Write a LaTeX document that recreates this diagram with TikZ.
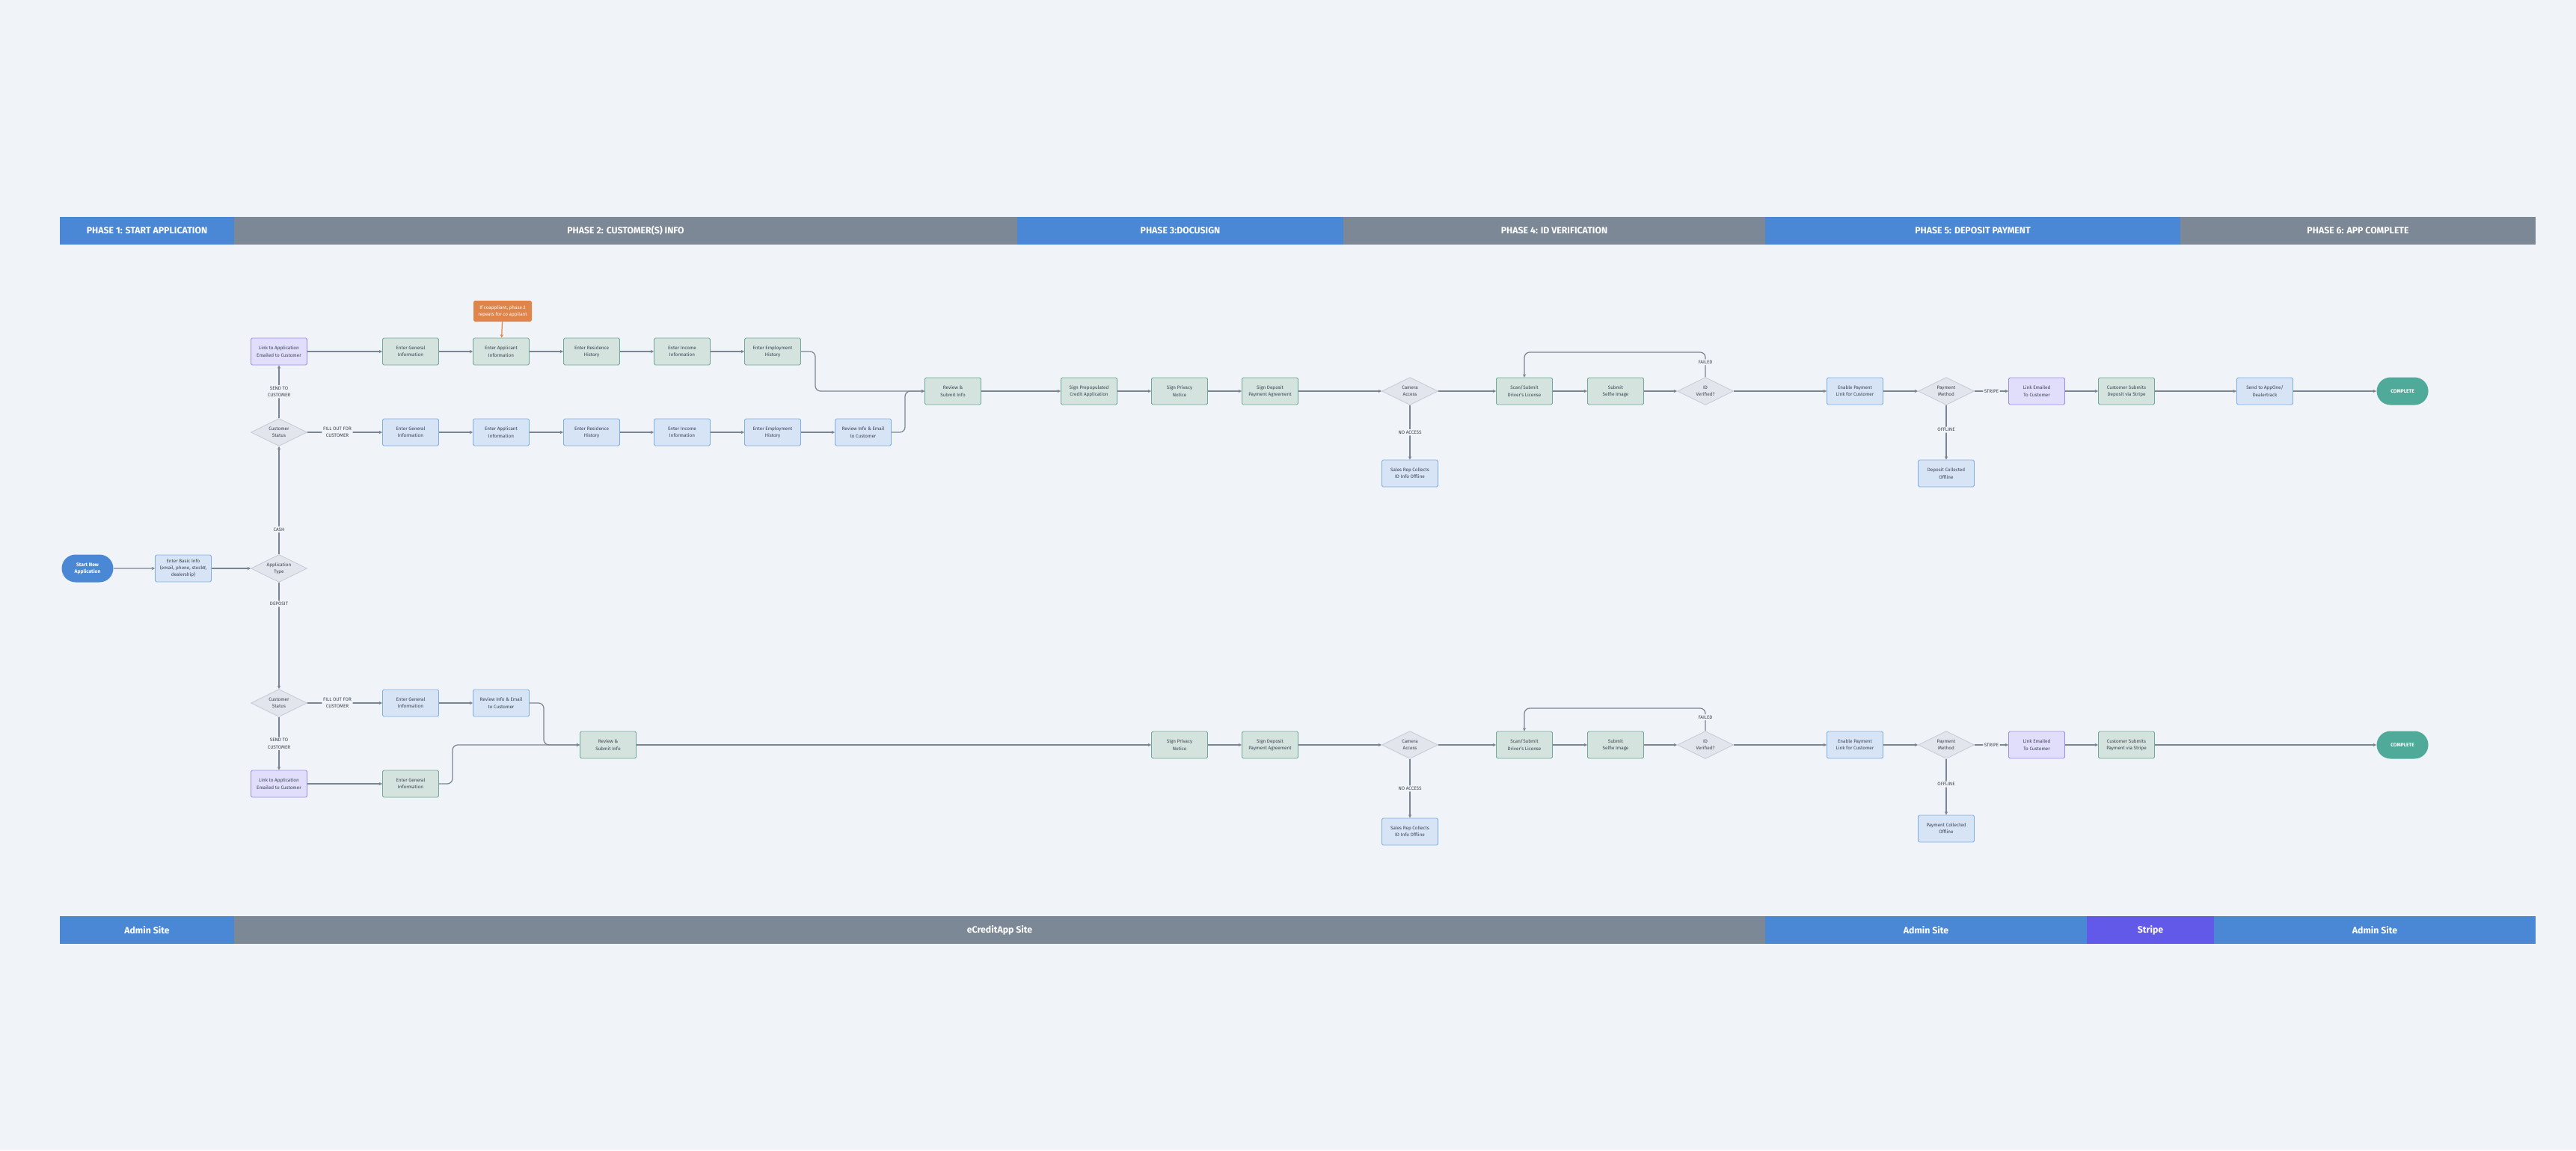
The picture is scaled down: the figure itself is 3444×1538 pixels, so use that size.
\documentclass[tikz,border=0pt]{standalone}
\usepackage{fontspec}
\setmainfont{Fira Sans}
\usetikzlibrary{shapes.geometric,shapes.misc,arrows.meta}
\definecolor{bg}{HTML}{F0F4F8}
\definecolor{gfill}{HTML}{D5E3DF}\definecolor{gdraw}{HTML}{6FA898}
\definecolor{bfill}{HTML}{D6E4F5}\definecolor{bdraw}{HTML}{7FAEE6}
\definecolor{pfill}{HTML}{E0DEFB}\definecolor{pdraw}{HTML}{9A8CF0}
\definecolor{dfill}{HTML}{E2E5EC}\definecolor{ddraw}{HTML}{C8CCD6}
\definecolor{arr}{HTML}{7A8593}
\definecolor{hblue}{HTML}{4A88D6}\definecolor{hgray}{HTML}{7C8896}
\definecolor{hstripe}{HTML}{6359E9}\definecolor{orng}{HTML}{E0844A}
\definecolor{teal}{HTML}{4FAA9A}\definecolor{txt}{HTML}{3A4250}
\begin{document}
\begin{tikzpicture}[x=0.02cm,y=-0.02cm,
  base/.style={minimum width=1.5cm,minimum height=0.72cm,align=center,inner sep=1pt,
     font=\fontsize{3.6}{5.2}\selectfont,text=txt,line width=0.5pt,rounded corners=1pt},
  gbox/.style={base,draw=gdraw,fill=gfill},
  bbox/.style={base,draw=bdraw,fill=bfill},
  pbox/.style={base,draw=pdraw,fill=pfill},
  dia/.style={diamond,aspect=2.1,draw=ddraw,fill=dfill,align=center,inner sep=0pt,
     minimum width=1.5cm,minimum height=0.74cm,font=\fontsize{3.6}{5.2}\selectfont,text=txt,line width=0.5pt},
  pill/.style={rounded rectangle,minimum width=1.45cm,minimum height=0.74cm,align=center,
     text=white,font=\fontsize{3.8}{5.2}\selectfont\bfseries,inner sep=1pt},
  lab/.style={fill=bg,font=\fontsize{3.6}{5.2}\selectfont,text=txt,align=center,inner sep=1pt},
  ar/.style={draw=arr,line width=0.7pt,-{Stealth[length=2.5pt,width=2.5pt]},rounded corners=4pt}]
\fill[bg] (0,0) rectangle (3444,1538);
\useasboundingbox (0,0) rectangle (3444,1538);
% headers
\foreach \a/\b/\c/\t/\n in {80/313/hblue/{PHASE 1: START APPLICATION}/h1,313/1360/hgray/{PHASE 2: CUSTOMER(S) INFO}/h2,1360/1796/hblue/{PHASE 3:DOCUSIGN}/h3,1796/2360/hgray/{PHASE 4: ID VERIFICATION}/h4,2360/2915/hblue/{PHASE 5: DEPOSIT PAYMENT}/h5,2915/3390/hgray/{PHASE 6: APP COMPLETE}/h6}{
  \fill[\c] (\a,290) rectangle (\b,327);
  \node[text=white,font=\fontsize{7}{8}\selectfont\bfseries] (\n) at ({(\a+\b)/2},308.5) {\t};}
\foreach \a/\b/\c/\t/\n in {80/313/hblue/{Admin Site}/f1,313/2360/hgray/{eCreditApp Site}/f2,2360/2790/hblue/{Admin Site}/f3,2790/2960/hstripe/{Stripe}/f4,2960/3390/hblue/{Admin Site}/f5}{
  \fill[\c] (\a,1225) rectangle (\b,1262);
  \node[text=white,font=\fontsize{7}{8}\selectfont\bfseries] (\n) at ({(\a+\b)/2},1243.5) {\t};}
% phase 1
\node[pill,fill=hblue] (start) at (117,760) {Start New\\Application};
\node[bbox] (basic) at (245,760) {Enter Basic Info\\(email, phone, stock\#,\\dealership)};
\node[dia] (atype) at (373,760) {Application\\Type};
\node[dia] (cs1) at (373,578) {Customer\\Status};
\node[pbox] (link1) at (373,470) {Link to Application\\Emailed to Customer};
\node[dia] (cs2) at (373,940) {Customer\\Status};
\node[pbox] (link2) at (373,1048) {Link to Application\\Emailed to Customer};
% upper rows
\node[gbox] (ug1) at (549,470) {Enter General\\Information};
\node[gbox] (ua1) at (670,470) {Enter Applicant\\Information};
\node[gbox] (ur1) at (791,470) {Enter Residence\\History};
\node[gbox] (ui1) at (912,470) {Enter Income\\Information};
\node[gbox] (ue1) at (1033,470) {Enter Employment\\History};
\node[base,fill=orng,draw=none,text=white,minimum width=1.56cm,minimum height=0.56cm] (note) at (672,416) {If coappliant, phase 2\\repeats for co appliant};
\node[bbox] (ug2) at (549,578) {Enter General\\Information};
\node[bbox] (ua2) at (670,578) {Enter Applicant\\Information};
\node[bbox] (ur2) at (791,578) {Enter Residence\\History};
\node[bbox] (ui2) at (912,578) {Enter Income\\Information};
\node[bbox] (ue2) at (1033,578) {Enter Employment\\History};
\node[bbox] (rv2) at (1154,578) {Review Info \& Email\\to Customer};
\node[gbox] (rs1) at (1274,523) {Review \&\\Submit Info};
\node[gbox] (sp1) at (1456,523) {Sign Prepopulated\\Credit Application};
\node[gbox] (sn1) at (1577,523) {Sign Privacy\\Notice};
\node[gbox] (sd1) at (1698,523) {Sign Deposit\\Payment Agreement};
\node[dia] (ca1) at (1885,523) {Camera\\Access};
\node[bbox] (sr1) at (1885,633) {Sales Rep Collects\\ID Info Offline};
\node[gbox] (sc1) at (2038,523) {Scan/Submit\\Driver's License};
\node[gbox] (se1) at (2160,523) {Submit\\Selfie Image};
\node[dia] (id1) at (2280,523) {ID\\Verified?};
\node[bbox] (en1) at (2480,523) {Enable Payment\\Link for Customer};
\node[dia] (pm1) at (2602,523) {Payment\\Method};
\node[bbox] (dc1) at (2602,633) {Deposit Collected\\Offline};
\node[pbox] (le1) at (2723,523) {Link Emailed\\To Customer};
\node[gbox] (cu1) at (2843,523) {Customer Submits\\Deposit via Stripe};
\node[bbox] (ao1) at (3028,523) {Send to AppOne/\\Dealertrack};
\node[pill,fill=teal] (co1) at (3212,523) {COMPLETE};
% lower rows
\node[bbox] (lg1) at (549,940) {Enter General\\Information};
\node[bbox] (lr1) at (670,940) {Review Info \& Email\\to Customer};
\node[gbox] (lg2) at (549,1048) {Enter General\\Information};
\node[gbox] (rs2) at (813,996) {Review \&\\Submit Info};
\node[gbox] (sn2) at (1577,996) {Sign Privacy\\Notice};
\node[gbox] (sd2) at (1698,996) {Sign Deposit\\Payment Agreement};
\node[dia] (ca2) at (1885,996) {Camera\\Access};
\node[bbox] (sr2) at (1885,1112) {Sales Rep Collects\\ID Info Offline};
\node[gbox] (sc2) at (2038,996) {Scan/Submit\\Driver's License};
\node[gbox] (se2) at (2160,996) {Submit\\Selfie Image};
\node[dia] (id2) at (2280,996) {ID\\Verified?};
\node[bbox] (en2) at (2480,996) {Enable Payment\\Link for Customer};
\node[dia] (pm2) at (2602,996) {Payment\\Method};
\node[bbox] (dc2) at (2602,1108) {Payment Collected\\Offline};
\node[pbox] (le2) at (2723,996) {Link Emailed\\To Customer};
\node[gbox] (cu2) at (2843,996) {Customer Submits\\Payment via Stripe};
\node[pill,fill=teal] (co2) at (3212,996) {COMPLETE};
% connectors phase 1
\draw[ar] (start) -- (basic);
\draw[ar] (basic) -- (atype);
\draw[ar] (atype) -- node[lab,pos=0.23]{CASH} (cs1);
\draw[ar] (atype) -- node[lab,pos=0.2]{DEPOSIT} (cs2);
\draw[ar] (cs1) -- node[lab]{SEND TO\\CUSTOMER} (link1);
\draw[ar] (cs2) -- node[lab]{SEND TO\\CUSTOMER} (link2);
\draw[ar] (cs1) -- node[lab,pos=0.4]{FILL OUT FOR\\CUSTOMER} (ug2);
\draw[ar] (cs2) -- node[lab,pos=0.4]{FILL OUT FOR\\CUSTOMER} (lg1);
\draw[ar] (link1) -- (ug1);
\draw[ar] (link2) -- (lg2);
\draw[draw=orng,line width=0.7pt,-{Stealth[length=2.5pt,width=2.5pt]}] (note) -- (ua1);
% upper chains
\draw[ar] (ug1)--(ua1); \draw[ar] (ua1)--(ur1); \draw[ar] (ur1)--(ui1); \draw[ar] (ui1)--(ue1);
\draw[ar] (ug2)--(ua2); \draw[ar] (ua2)--(ur2); \draw[ar] (ur2)--(ui2); \draw[ar] (ui2)--(ue2); \draw[ar] (ue2)--(rv2);
\draw[ar] (ue1.east) -- (1090,470) |- (rs1.west);
\draw[ar] (rv2.east) -- (1210,578) |- (rs1.west);
\draw[ar] (rs1)--(sp1); \draw[ar] (sp1)--(sn1); \draw[ar] (sn1)--(sd1); \draw[ar] (sd1)--(ca1);
\draw[ar] (ca1)--(sc1); \draw[ar] (ca1) -- node[lab]{NO ACCESS} (sr1);
\draw[ar] (sc1)--(se1); \draw[ar] (se1)--(id1); \draw[ar] (id1)--(en1);
\draw[ar] (id1.north) -- node[lab,pos=0.6]{FAILED} (2280,471) -| (sc1.north);
\draw[ar] (en1)--(pm1); \draw[ar] (pm1) -- node[lab]{STRIPE} (le1);
\draw[ar] (pm1) -- node[lab,pos=0.45]{OFFLINE} (dc1);
\draw[ar] (le1)--(cu1); \draw[ar] (cu1)--(ao1); \draw[ar] (ao1)--(co1);
% lower chain
\draw[ar] (lg1)--(lr1);
\draw[ar] (lr1.east) -- (727,940) |- (rs2.west);
\draw[ar] (lg2.east) -- (605,1048) |- (rs2.west);
\draw[ar] (rs2)--(sn2); \draw[ar] (sn2)--(sd2); \draw[ar] (sd2)--(ca2);
\draw[ar] (ca2)--(sc2); \draw[ar] (ca2) -- node[lab]{NO ACCESS} (sr2);
\draw[ar] (sc2)--(se2); \draw[ar] (se2)--(id2); \draw[ar] (id2)--(en2);
\draw[ar] (id2.north) -- node[lab,pos=0.6]{FAILED} (2280,947) -| (sc2.north);
\draw[ar] (en2)--(pm2); \draw[ar] (pm2) -- node[lab]{STRIPE} (le2);
\draw[ar] (pm2) -- node[lab,pos=0.45]{OFFLINE} (dc2);
\draw[ar] (le2)--(cu2); \draw[ar] (cu2)--(co2);
\end{tikzpicture}
\end{document}
